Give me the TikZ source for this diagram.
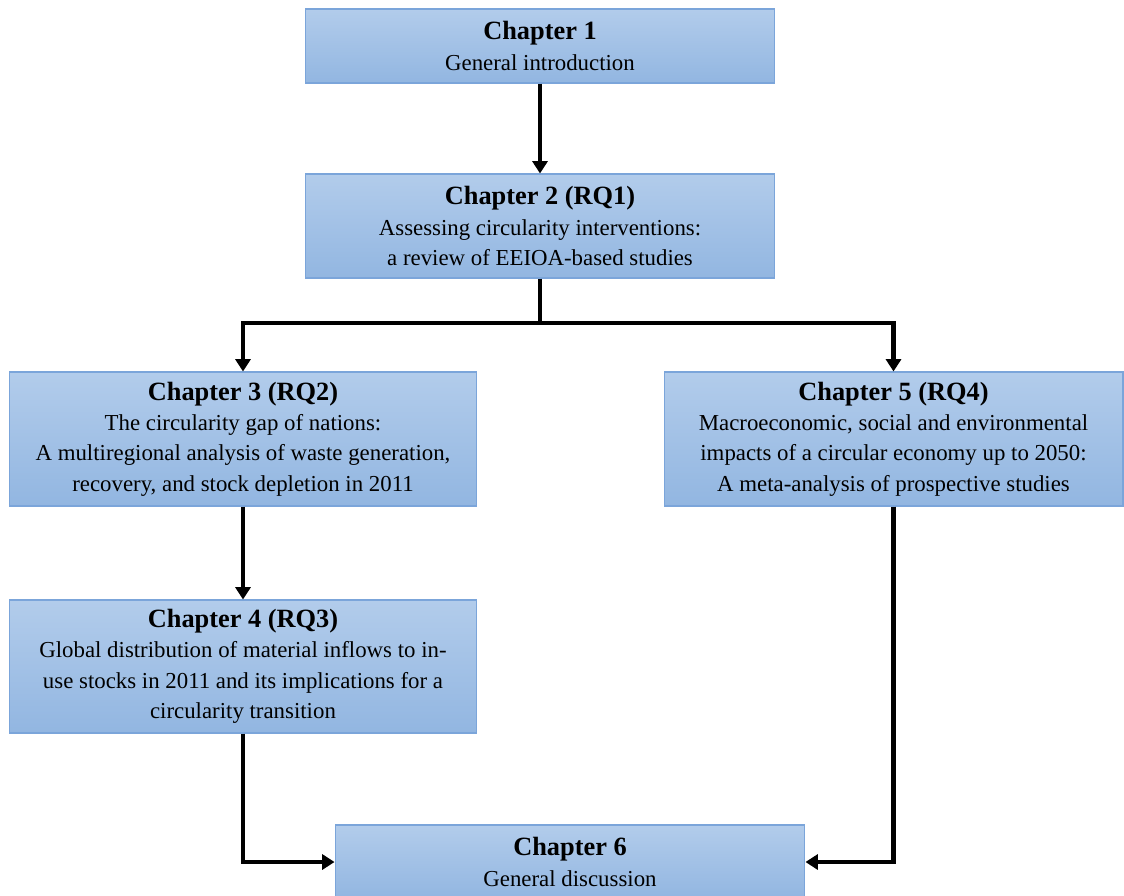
\documentclass[tikz,border=0pt]{standalone}
\usepackage{fontspec}
\setmainfont{Liberation Serif}
\usepackage{tikz}
\usetikzlibrary{arrows.meta,positioning}

\definecolor{boxtop}{HTML}{B2CCEB}
\definecolor{boxbot}{HTML}{92B6E1}
\definecolor{boxline}{HTML}{7BA5DA}

\newcommand{\chaptitle}[1]{{\fontsize{15}{18}\bfseries #1}}

\tikzset{
  chapbox/.style={draw=boxline, line width=0.6pt, top color=boxtop, bottom color=boxbot,
    align=center, inner sep=0pt, font=\fontsize{13}{17.3}\selectfont},
  flow/.style={line width=2.3pt, -{Triangle[width=8.5pt,length=7pt]}}
}

\begin{document}
\begin{tikzpicture}[x=0.02cm,y=-0.02cm]
            \useasboundingbox (0,0) rectangle (1124,895);
            \node[chapbox, minimum width=9.4cm, minimum height=1.48cm] (ch1) at (540,46)
                {\chaptitle{Chapter 1}\\General introduction};
            \node[chapbox, minimum width=9.4cm, minimum height=2.08cm] (ch2) at (540,226)
                {\chaptitle{Chapter 2 (RQ1)}\\Assessing circularity interventions:\\a review of EEIOA-based studies};
            \node[chapbox, minimum width=9.36cm, minimum height=2.68cm] (ch3) at (243,439)
                {\chaptitle{Chapter 3 (RQ2)}\\The circularity gap of nations:\\A multiregional analysis of waste generation,\\recovery, and stock depletion in 2011};
            \node[chapbox, minimum width=9.18cm, minimum height=2.68cm] (ch5) at (893.5,439)
                {\chaptitle{Chapter 5 (RQ4)}\\Macroeconomic, social and environmental\\impacts of a circular economy up to 2050:\\A meta-analysis of prospective studies};
            \node[chapbox, minimum width=9.36cm, minimum height=2.66cm] (ch4) at (243,666.5)
                {\chaptitle{Chapter 4 (RQ3)}\\Global distribution of material inflows to in-\\use stocks in 2011 and its implications for a\\circularity transition};
            \node[chapbox, minimum width=9.4cm, minimum height=1.48cm] (ch6) at (570,862)
                {\chaptitle{Chapter 6}\\General discussion};
            \coordinate (split) at (540,323);
            \draw[flow] (ch1) -- (ch2);
            \draw[line width=2.3pt] (ch2.south) -- (split);
            \draw[flow] (split) -| (ch3.north);
            \draw[flow] (split) -| (ch5.north);
            \draw[flow] (ch3) -- (ch4);
            \draw[flow] (ch4.south) |- (ch6.west);
            \draw[flow] (ch5.south) |- (ch6.east);
\end{tikzpicture}
\end{document}
